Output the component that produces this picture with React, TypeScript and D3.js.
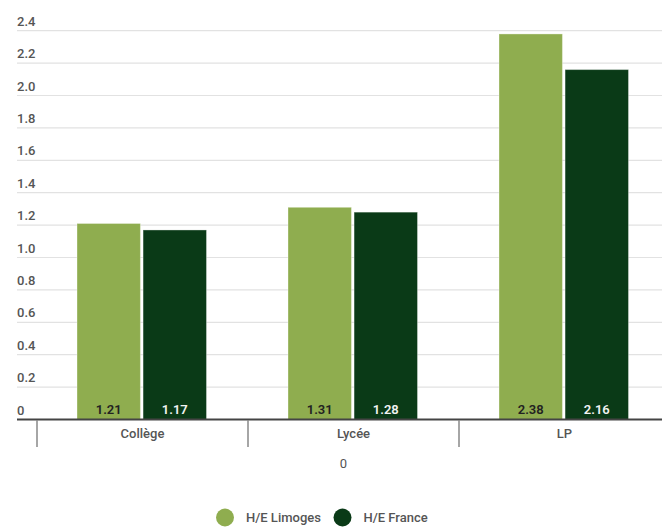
import React from "react";
import * as d3 from "d3";

const categories = ["Collège", "Lycée", "LP"];
const seriesNames = ["H/E Limoges", "H/E France"];
const limogesValues = [1.21, 1.31, 2.38];
const franceValues = [1.17, 1.28, 2.16];
const yTicks = [0, 0.2, 0.4, 0.6, 0.8, 1.0, 1.2, 1.4, 1.6, 1.8, 2.0, 2.2, 2.4];
const xAxisTitle = "0";

const colors = ["#8fad4f", "#0a3a17"];
const labelColors = ["#222222", "#f2f2f2"];

const W = 662;
const H = 527;
const FONT = "Roboto, 'Noto Sans', sans-serif";

export default function App() {
  const y = d3.scaleLinear().domain([0, 2.4]).range([419.5, 30.7]);
  const x0 = d3.scaleBand<string>().domain(categories).range([37, 670]).paddingInner(0).paddingOuter(0);
  const x1 = d3.scaleBand<string>().domain(seriesNames).range([40, 169.5]).paddingInner(0.04);
  const series = [limogesValues, franceValues];
  const boundaries = categories.map((c) => x0(c) as number).concat([670]);

  return (
    <div style={{ position: "fixed", left: 0, top: 0, width: W, height: H, background: "#fff" }}>
      <svg width={W} height={H} style={{ display: "block", fontFamily: FONT }}>
        {yTicks.map((t) => (
          <g key={t}>
            {t !== 0 && (
              <line x1={17} x2={W} y1={y(t)} y2={y(t)} stroke="#e2e2e2" strokeWidth={1.2} />
            )}
            <text x={17} y={y(t) - 5} fontSize={13} fontWeight={500} fill="#555">
              {t === 0 ? "0" : d3.format(".1f")(t)}
            </text>
          </g>
        ))}
        {categories.map((c, ci) => (
          <g key={c} transform={`translate(${x0(c)},0)`}>
            {seriesNames.map((s, si) => {
              const v = series[si][ci];
              const bx = x1(s) as number;
              const bw = x1.bandwidth();
              return (
                <g key={s}>
                  <rect
                    x={bx}
                    y={y(v)}
                    width={bw}
                    height={y(0) - y(v)}
                    fill={colors[si]}
                    stroke="rgba(255,255,255,0.35)"
                    strokeWidth={1}
                  />
                  <text
                    x={bx + bw / 2}
                    y={414}
                    textAnchor="middle"
                    fontSize={13}
                    fontWeight={600}
                    fill={labelColors[si]}
                  >
                    {d3.format(".2f")(v)}
                  </text>
                </g>
              );
            })}
            <text
              x={x0.bandwidth() / 2}
              y={438}
              textAnchor="middle"
              fontSize={13}
              fontWeight={500}
              fill="#555"
            >
              {c}
            </text>
          </g>
        ))}
        <line x1={17} x2={W} y1={419.5} y2={419.5} stroke="#444" strokeWidth={2} />
        {boundaries.map((b, i) => (
          <line key={i} x1={b} x2={b} y1={420} y2={447} stroke="#888" strokeWidth={1.5} />
        ))}
        <text x={343.5} y={468} textAnchor="middle" fontSize={13} fill="#555">
          {xAxisTitle}
        </text>
        {seriesNames.map((s, i) => {
          const cx = i === 0 ? 225 : 342.5;
          return (
            <g key={s}>
              <circle cx={cx} cy={517.5} r={9} fill={colors[i]} />
              <text x={cx + 21} y={522} fontSize={13} fontWeight={500} fill="#555">
                {s}
              </text>
            </g>
          );
        })}
      </svg>
    </div>
  );
}
